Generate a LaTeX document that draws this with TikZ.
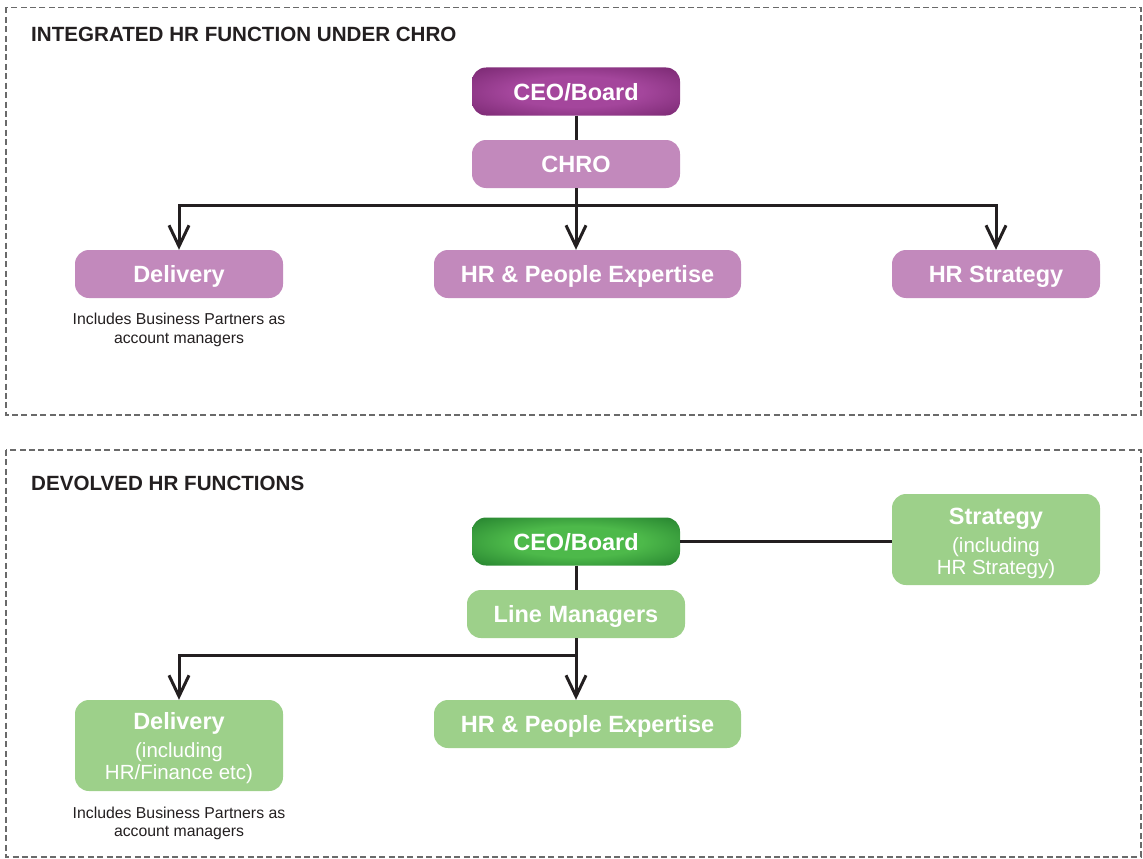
\documentclass[tikz,border=0pt]{standalone}
\usepackage{fontspec}
\setmainfont{Liberation Sans}
\usetikzlibrary{arrows.meta}

\definecolor{plumlight}{HTML}{C289BC}
\definecolor{plumglow}{HTML}{A4469C}
\definecolor{plumdeep}{HTML}{5E1556}
\definecolor{leaflight}{HTML}{9DD08A}
\definecolor{leafglow}{HTML}{4DB94A}
\definecolor{leafdeep}{HTML}{0B5E1D}
\definecolor{ink}{HTML}{231F20}
\definecolor{frame}{HTML}{6A6A6A}

% soft central glow for the CEO/Board boxes
\pgfdeclareradialshading{plumshade}{\pgfpoint{0bp}{0bp}}{%
  color(0bp)=(plumglow); color(16bp)=(plumglow); color(49bp)=(plumdeep); color(50bp)=(plumdeep)}
\pgfdeclareradialshading{leafshade}{\pgfpoint{0bp}{0bp}}{%
  color(0bp)=(leafglow); color(16bp)=(leafglow); color(49bp)=(leafdeep); color(50bp)=(leafdeep)}

\tikzset{
  panel/.style={draw=frame, line width=1.3pt, dash pattern=on 6pt off 3.4pt},
  heading/.style={anchor=base west, inner sep=0pt, text=ink,
    font=\fontsize{20.6}{23}\selectfont\bfseries},
  box/.style={rounded corners=14pt, minimum height=48pt, inner sep=0pt,
    text=white, align=center, font=\fontsize{23.5}{26}\selectfont\bfseries},
  oneline/.style={text height=17pt, text depth=0pt},
  plumbox/.style={box, oneline, fill=plumlight},
  leafbox/.style={box, oneline, fill=leaflight},
  tallbox/.style={box, fill=leaflight, minimum height=91pt},
  topbox/.style={box, oneline, shading=#1},
  note/.style={anchor=north, inner sep=0pt, align=center, text=ink,
    font=\fontsize{15.8}{18.5}\selectfont},
  link/.style={draw=ink, line width=3pt},
  flow/.style={link, -{Straight Barb[length=21pt,width=20pt,line width=3pt]}},
}

\newcommand{\subline}{\fontsize{20.5}{22.5}\selectfont\mdseries}
\newcommand{\lowerfirst}{\rule{0pt}{25pt}}

\begin{document}
\begin{tikzpicture}[x=1pt, y=-1pt]
\useasboundingbox (0,0) rectangle (1143,859);

% dashed panels
\draw[panel] (6,7.5) rectangle (1141,415);
\draw[panel] (6,450) rectangle (1141,857);

% ---------- integrated HR function ----------
\node[heading] (t1) at (31,42) {INTEGRATED HR FUNCTION UNDER CHRO};

\node[topbox=plumshade, minimum width=208pt] (ceo1) at (576,91.5) {CEO/Board};
\node[plumbox, minimum width=208pt] (chro) at (576,164) {CHRO};
\node[plumbox, minimum width=208pt] (del1) at (179,274) {Delivery};
\node[plumbox, minimum width=307pt] (hrpe1) at (587.5,274) {HR \& People Expertise};
\node[plumbox, minimum width=208pt] (hrs1) at (996,274) {HR Strategy};
\node[note] (note1) at (179,313) {Includes Business Partners as\\account managers};

\coordinate (bar1) at (576,205);
\draw[link] (ceo1) -- (chro);
\draw[flow] (chro.south) -- (chro.south |- hrpe1.north);
\draw[flow] (bar1) -| (del1.north);
\draw[flow] (bar1) -| (hrs1.north);

% ---------- devolved HR functions ----------
\node[heading] (t2) at (31,490) {DEVOLVED HR FUNCTIONS};

\node[topbox=leafshade, minimum width=208pt] (ceo2) at (576,541.5) {CEO/Board};
\node[tallbox, minimum width=208pt] (strat) at (996,539.5)
  {\lowerfirst Strategy\\[2pt]\subline (including\\[-4pt]\subline HR Strategy)};
\node[leafbox, minimum width=218pt] (lm) at (576,614) {Line Managers};
\node[tallbox, minimum width=208pt] (del2) at (179,745.5)
  {\rule{0pt}{23pt}Delivery\\[2pt]\subline (including\\[-4pt]\subline HR/Finance etc)};
\node[leafbox, minimum width=307pt] (hrpe2) at (587.5,724) {HR \& People Expertise};
\node[note] (note2) at (179,806.5) {Includes Business Partners as\\account managers};

\coordinate (bar2) at (576,655);
\draw[link] (ceo2) -- (lm);
\draw[link] (ceo2.east) -- (ceo2.east -| strat.west);
\draw[flow] (lm.south) -- (lm.south |- hrpe2.north);
\draw[flow] (bar2) -| (del2.north);

\end{tikzpicture}
\end{document}
